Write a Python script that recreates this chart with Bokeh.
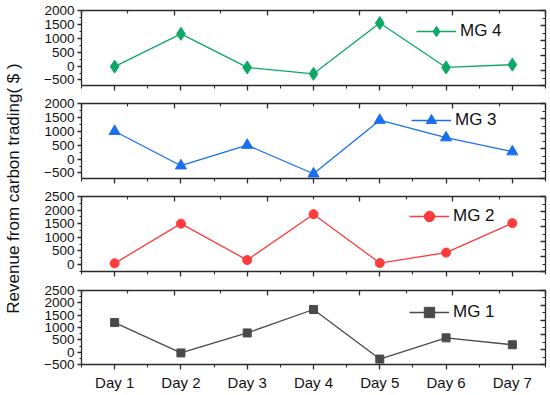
import numpy as np
from bokeh.plotting import figure
from bokeh.layouts import column, row
from bokeh.models import (Range1d, LinearAxis, FixedTicker, Legend, LegendItem, Label,
                          CustomLabelingPolicy)
from bokeh.embed import file_html
from bokeh.resources import INLINE

# ---------------- data ----------------
days = ["Day 1", "Day 2", "Day 3", "Day 4", "Day 5", "Day 6", "Day 7"]
mg4 = [-20, 1160, -50, -280, 1550, -50, 50]
mg3 = [1000, -240, 500, -530, 1400, 770, 265]
mg2 = [40, 1500, 160, 1850, 50, 435, 1520]
mg1 = [1200, -30, 780, 1730, -280, 580, 300]
series_names = ["MG 4", "MG 3", "MG 2", "MG 1"]
y_label = "Revenue from carbon trading( $ )"

x = list(range(1, len(days) + 1))

FONT = "Liberation Sans"
AX = "#2b2b2b"

panel_specs = [
    dict(name=series_names[0], vals=mg4, color="#0EA865", marker="diamond", size=13,
         yr=(-700, 2000), major=list(range(-500, 2001, 500)), h=94, bt=10, bb=9, leg=(335, 41)),
    dict(name=series_names[1], vals=mg3, color="#1A6FF0", marker="triangle", size=11,
         yr=(-700, 2000), major=list(range(-500, 2001, 500)), h=93, bt=9, bb=9, leg=(330, 45)),
    dict(name=series_names[2], vals=mg2, color="#FF3B3B", marker="circle", size=9,
         yr=(-260, 2500), major=list(range(0, 2501, 500)), h=93, bt=9, bb=9, leg=(328, 42)),
    dict(name=series_names[3], vals=mg1, color="#4A4A4A", marker="square", size=8,
         yr=(-500, 2500), major=list(range(-500, 2501, 500)), h=113, bt=10, bb=29, leg=(328, 39)),
]

hide_labels = "for (const i of indices) { indices.unset(i) } return indices"

LAB_W = 25
W = 525
figs = []
for i, s in enumerate(panel_specs):
    last = i == len(panel_specs) - 1
    p = figure(width=W, height=s["h"], output_backend="svg", toolbar_location=None,
               x_range=Range1d(0.5, 7.5), y_range=Range1d(*s["yr"]),
               min_border_left=56, min_border_right=5, min_border_top=s["bt"], min_border_bottom=s["bb"],
               x_axis_type=None, y_axis_type=None)
    p.xgrid.visible = False
    p.ygrid.visible = False
    p.outline_line_color = None

    p.extra_x_ranges = {"top": Range1d(0, 10)}
    p.extra_y_ranges = {"right": Range1d(0, 10)}

    # bottom axis
    xb = LinearAxis(ticker=FixedTicker(ticks=x, minor_ticks=[v + 0.5 for v in range(0, 8)]))
    xb.major_label_overrides = {xi: d for xi, d in zip(x, days)}
    xb.major_tick_in = 0
    xb.major_tick_out = 5
    xb.minor_tick_in = 0
    xb.minor_tick_out = 3
    if last:
        xb.major_label_text_font_size = "15px"
        xb.major_label_standoff = 4
    else:
        xb.major_label_policy = CustomLabelingPolicy(code=hide_labels)
        xb.major_label_text_font_size = "1px"
        xb.major_label_standoff = 0
    p.add_layout(xb, "below")

    # left axis
    minors = [v + 250 for v in range(-1000, 2600, 500)]
    yl = LinearAxis(ticker=FixedTicker(ticks=s["major"], minor_ticks=minors))
    yl.major_label_text_font_size = "13.5px"
    yl.major_tick_in = 0
    yl.major_tick_out = 4
    yl.minor_tick_in = 0
    yl.minor_tick_out = 2
    yl.major_label_standoff = 3
    yl.major_label_overrides = {v: (str(v).replace("-", "\u2212")) for v in s["major"]}
    p.add_layout(yl, "left")

    # top axis (mirror, ticks inside)
    xt = LinearAxis(x_range_name="top",
                    ticker=FixedTicker(ticks=[0, 2, 4, 6, 8, 10], minor_ticks=[1, 3, 5, 7, 9]))
    # right axis (mirror, ticks inside)
    yr = LinearAxis(y_range_name="right",
                    ticker=FixedTicker(ticks=[0, 2, 4, 6, 8, 10], minor_ticks=[1, 3, 5, 7, 9]))
    for ax in (xt, yr):
        ax.major_tick_in = 5
        ax.major_tick_out = 0
        ax.minor_tick_in = 3
        ax.minor_tick_out = 0
        ax.major_label_policy = CustomLabelingPolicy(code=hide_labels)
        ax.major_label_text_font_size = "1px"
        ax.major_label_standoff = 0
    p.add_layout(xt, "above")
    p.add_layout(yr, "right")

    for ax in (xb, yl, xt, yr):
        ax.axis_line_color = AX
        ax.axis_line_width = 1.3
        ax.major_tick_line_color = AX
        ax.major_tick_line_width = 1.3
        ax.minor_tick_line_color = AX
        ax.minor_tick_line_width = 1.1
        ax.major_label_text_font = FONT
        ax.major_label_text_color = "#111111"

    lr = p.line(x, s["vals"], line_color=s["color"], line_width=1.3)
    sr = p.scatter(x, s["vals"], marker=s["marker"], size=s["size"],
                   fill_color=s["color"], line_color=s["color"])

    leg = Legend(items=[LegendItem(label=s["name"], renderers=[lr, sr])],
                 location=s["leg"], padding=0, margin=0, spacing=0,
                 glyph_width=40, glyph_height=26, label_standoff=4,
                 label_text_font=FONT, label_text_font_size="17px", label_text_color="#111111",
                 border_line_alpha=0, background_fill_alpha=0)
    p.add_layout(leg, "center")
    figs.append(p)

total_h = sum(s["h"] for s in panel_specs)
lab = figure(width=LAB_W, height=total_h, output_backend="svg", toolbar_location=None,
             x_range=Range1d(0, 1), y_range=Range1d(0, 1), min_border=0,
             x_axis_type=None, y_axis_type=None)
lab.xgrid.visible = False
lab.ygrid.visible = False
lab.outline_line_color = None
lab.add_layout(Label(x=3, y=total_h - 188, x_units="screen", y_units="screen", text=y_label,
                     angle=np.pi / 2, text_align="center", text_baseline="top",
                     text_font=FONT, text_font_size="17px", text_color="#111111"))

layout = row(lab, column(*figs, spacing=0), spacing=0)
open("out.html", "w").write(file_html(layout, INLINE))
